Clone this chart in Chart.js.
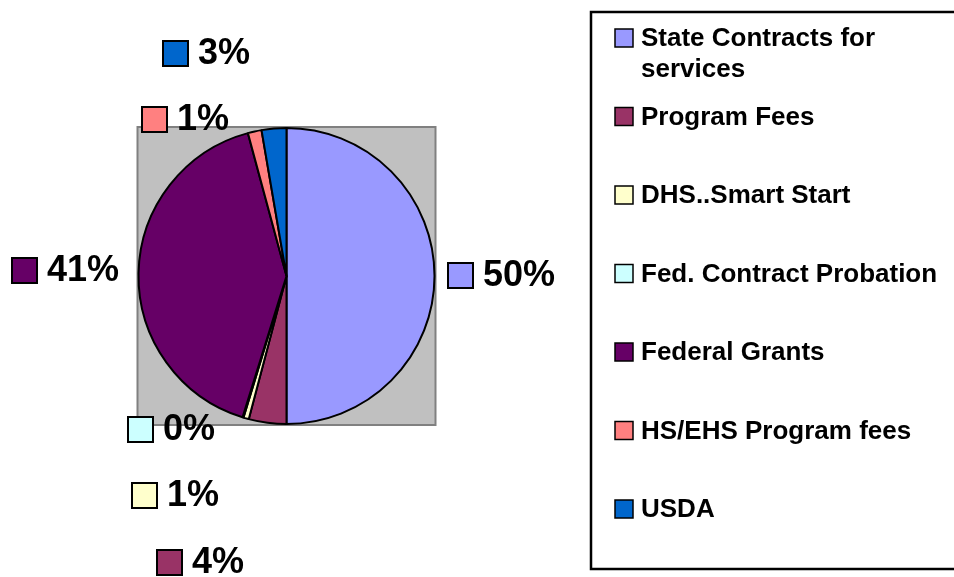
<!DOCTYPE html>
<html>
<head>
<meta charset="utf-8">
<script src="https://cdn.jsdelivr.net/npm/chart.js@4/dist/chart.umd.min.js"></script>
<style>
html,body{margin:0;padding:0;background:#fff;}
#wrap{width:954px;height:577px;position:relative;}
</style>
</head>
<body>
<div id="wrap"><canvas id="c" width="954" height="577"></canvas></div>
<script>
// ---- data ----
const categories = ['State Contracts for services', 'Program Fees', 'DHS..Smart Start', 'Fed. Contract Probation', 'Federal Grants', 'HS/EHS Program fees', 'USDA'];
const shares = [50.0, 4.1, 0.6, 0.1, 41.0, 1.5, 2.7];
const pctLabels = ['50%', '4%', '1%', '0%', '41%', '1%', '3%'];
const colors = ['#9999FF', '#993366', '#FFFFCC', '#CCFFFF', '#660066', '#FF8080', '#0066CC'];

// ---- layout (label key-square top-left corners) ----
const labelBoxes = [[448, 263], [157, 550], [132, 483], [128, 417], [12, 258], [142, 107], [163, 41]];

const FONT = '"Liberation Sans", Arial, Helvetica, sans-serif';

const plotBg = {
  id: 'plotBg',
  beforeDatasetsDraw(chart) {
    const {ctx, chartArea: a} = chart;
    ctx.save();
    ctx.fillStyle = '#C0C0C0';
    ctx.fillRect(a.left, a.top, a.right - a.left, a.bottom - a.top);
    ctx.strokeStyle = '#808080';
    ctx.lineWidth = 2;
    ctx.strokeRect(a.left, a.top, a.right - a.left, a.bottom - a.top);
    ctx.restore();
  }
};

const labelsAndLegend = {
  id: 'labelsAndLegend',
  afterDraw(chart) {
    const ctx = chart.ctx;
    ctx.save();
    // data labels
    ctx.font = 'bold 36px ' + FONT;
    ctx.textBaseline = 'middle';
    ctx.textAlign = 'left';
    pctLabels.forEach((t, i) => {
      const [x, y] = labelBoxes[i];
      const s = 25;
      ctx.fillStyle = colors[i];
      ctx.fillRect(x, y, s, s);
      ctx.strokeStyle = '#000';
      ctx.lineWidth = 2;
      ctx.strokeRect(x, y, s, s);
      ctx.fillStyle = '#000';
      ctx.fillText(t, x + s + 10, y + s / 2 + 1);
    });
    // legend box
    ctx.strokeStyle = '#000';
    ctx.lineWidth = 2.5;
    ctx.strokeRect(591, 12, 400, 557);
    ctx.font = 'bold 26px ' + FONT;
    const maxW = 310;
    categories.forEach((name, i) => {
      const cy = 38 + i * 78.5;
      ctx.fillStyle = colors[i];
      ctx.fillRect(615, cy - 9, 18, 18);
      ctx.strokeStyle = '#000';
      ctx.lineWidth = 1.5;
      ctx.strokeRect(615, cy - 9, 18, 18);
      const words = name.split(' ');
      const lines = [];
      let cur = '';
      words.forEach(w => {
        const test = cur ? cur + ' ' + w : w;
        if (ctx.measureText(test).width > maxW && cur) { lines.push(cur); cur = w; }
        else cur = test;
      });
      lines.push(cur);
      ctx.fillStyle = '#000';
      lines.forEach((ln, k) => ctx.fillText(ln, 641, cy + 1 + k * 31));
    });
    ctx.restore();
  }
};

new Chart(document.getElementById('c'), {
  type: 'pie',
  data: {
    labels: categories,
    datasets: [{
      data: shares,
      backgroundColor: colors,
      borderColor: '#000',
      borderWidth: 2
    }]
  },
  options: {
    responsive: false,
    animation: false,
    layout: {padding: {left: 137.5, right: 518.5, top: 127, bottom: 152}},
    plugins: {legend: {display: false}, tooltip: {enabled: false}, title: {display: false}}
  },
  plugins: [plotBg, labelsAndLegend]
});
</script>
</body>
</html>
